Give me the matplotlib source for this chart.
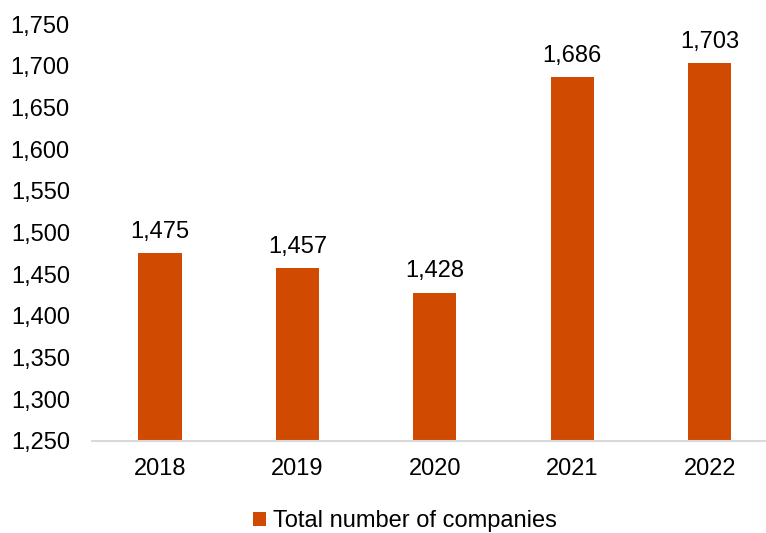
import matplotlib
matplotlib.use("Agg")
import matplotlib.pyplot as plt
from matplotlib.ticker import FuncFormatter

years = ["2018", "2019", "2020", "2021", "2022"]
companies = [1475, 1457, 1428, 1686, 1703]
bar_color = "#D04A02"

plt.rcParams["font.family"] = ["Liberation Sans", "DejaVu Sans"]

fig = plt.figure(figsize=(7.66, 5.33), dpi=100)
ax = fig.add_axes([92 / 766, 1 - 441 / 533, (766 - 92) / 766, (441 - 24) / 533])

x = range(len(years))
bars = ax.bar(x, [v - 1250 for v in companies], bottom=1250, width=0.315,
              color=bar_color, label="Total number of companies")

for xi, v in zip(x, companies):
    ax.annotate(f"{v:,}", (xi, v), xytext=(0, 11), textcoords="offset points",
                ha="center", va="baseline", fontsize=17, color="#000000")

ax.set_ylim(1250, 1750)
ax.set_xlim(-0.495, 4.41)
ax.set_yticks(range(1250, 1751, 50))
ax.yaxis.set_major_formatter(FuncFormatter(lambda v, p: f"{int(v):,}"))
ax.set_xticks(list(x))
ax.set_xticklabels(years)

for side in ["top", "right", "left"]:
    ax.spines[side].set_visible(False)
ax.spines["bottom"].set_color("#D9D9D9")
ax.spines["bottom"].set_linewidth(1.5)
ax.tick_params(axis="both", length=0, labelsize=17, colors="#000000")
ax.tick_params(axis="y", pad=16)
ax.tick_params(axis="x", pad=12)

fig.legend(handles=[bars], labels=["Total number of companies"],
           loc="center", bbox_to_anchor=(405 / 766, 1 - 521 / 533),
           frameon=False, fontsize=17, handlelength=0.55, handleheight=0.55,
           handletextpad=0.3)

fig.savefig("out.png", dpi=100)
